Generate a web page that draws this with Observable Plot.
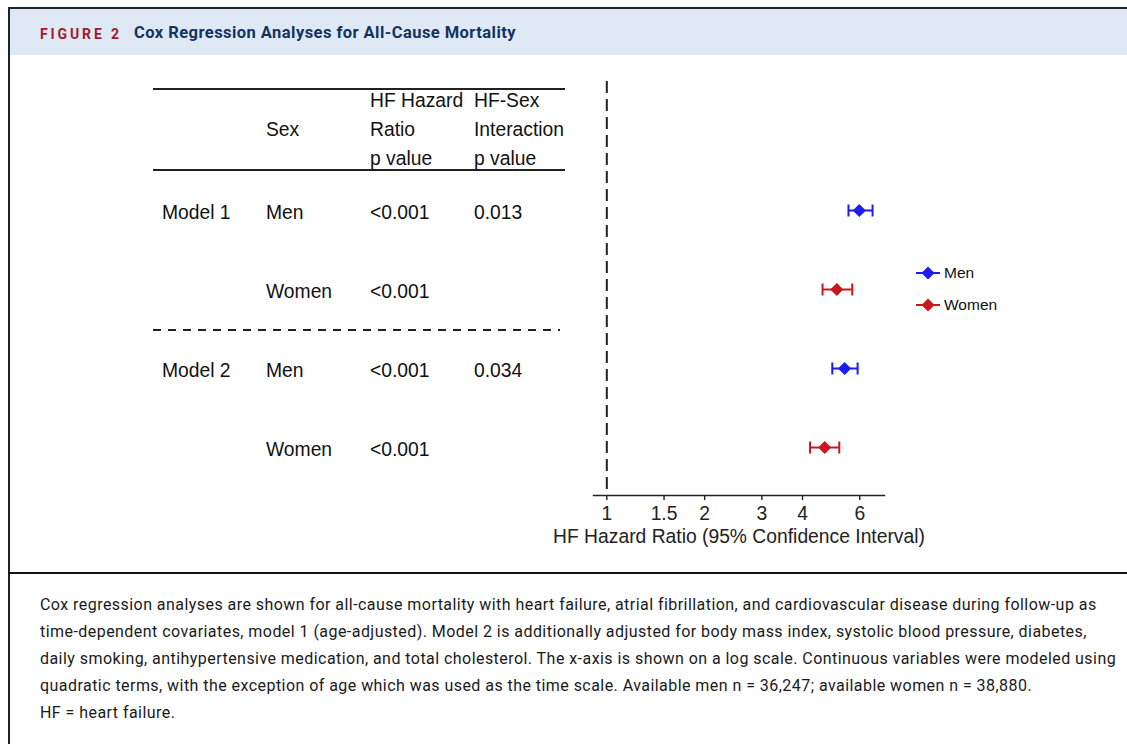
<!DOCTYPE html>
<html>
<head>
<meta charset="utf-8">
<script src="https://cdn.jsdelivr.net/npm/d3@7"></script>
<script src="https://cdn.jsdelivr.net/npm/@observablehq/plot@0.6"></script>
<style>
html, body { margin: 0; padding: 0; background: #fff; }
#page { position: relative; width: 1127px; height: 744px; overflow: hidden; font-family: "Liberation Sans", Arial, sans-serif; color: #111; }
.abs { position: absolute; white-space: nowrap; }
#frameTop { left: 8px; top: 7px; width: 1119px; height: 2px; background: #222; }
#frameLeft { left: 8px; top: 7px; width: 2px; height: 737px; background: #222; }
#band { left: 10px; top: 9px; width: 1117px; height: 46px; background: #dee9f5; }
#divider { left: 8px; top: 572px; width: 1119px; height: 2px; background: #111; }
#figLabel { left: 40px; top: 24px; font-family: Roboto, "Open Sans", sans-serif; font-weight: 700; font-size: 14px; line-height: 20px; color: #a3182f; }
#figTitle { left: 134px; top: 23px; font-family: Roboto, "Open Sans", sans-serif; font-weight: 700; font-size: 16.5px; line-height: 20px; color: #14325f; }
.rule { left: 153px; width: 412px; height: 2px; background: #222; }
#dashRule { left: 153px; top: 329px; width: 407px; height: 2px; background: repeating-linear-gradient(to right, #222 0 8px, transparent 8px 15px); }
.cell { font-size: 19.3px; line-height: 28px; color: #111; }
.hcell { font-size: 19.3px; line-height: 29px; color: #111; }
#plotWrap { left: 0; top: 60px; }
.leg { font-family: "Liberation Sans", Arial, sans-serif; font-size: 15.5px; color: #111; display: flex; align-items: center; }
.leg svg { margin-right: 3px; }
#caption { left: 40px; top: 591px; font-family: Roboto, "Open Sans", sans-serif; font-size: 16px; line-height: 27px; color: #1a1a1a; }
#caption div { white-space: nowrap; }
</style>
</head>
<body>
<div id="page">
  <div class="abs" id="band"></div>
  <div class="abs" id="frameTop"></div>
  <div class="abs" id="frameLeft"></div>
  <div class="abs" id="divider"></div>
  <div class="abs" id="figLabel"></div>
  <div class="abs" id="figTitle"></div>
  <div class="abs rule" style="top:88px"></div>
  <div class="abs rule" style="top:169px"></div>
  <div class="abs" id="dashRule"></div>
  <div class="abs" id="plotWrap"></div>
  <div class="abs" id="caption"></div>
</div>
<script>
// ---------- data ----------
const figureLabel = "FIGURE 2";
const figureTitle = "Cox Regression Analyses for All-Cause Mortality";

const rowKeys = ["Model 1 Men", "Model 1 Women", "Model 2 Men", "Model 2 Women"];
const models = ["Model 1", "", "Model 2", ""];
const sexes = ["Men", "Women", "Men", "Women"];
const hrPValues = ["<0.001", "<0.001", "<0.001", "<0.001"];
const interactionPValues = ["0.013", "", "0.034", ""];

const hazardRatio = [5.98, 5.10, 5.39, 4.68];
const ciLower = [5.54, 4.61, 4.94, 4.22];
const ciUpper = [6.57, 5.69, 5.91, 5.19];

const headerSex = ["", "Sex", ""];
const headerHR = ["HF Hazard", "Ratio", "p value"];
const headerInteraction = ["HF-Sex", "Interaction", "p value"];

const xTicks = [1, 1.5, 2, 3, 4, 6];
const xLabel = "HF Hazard Ratio (95% Confidence Interval)";
const legendLabels = ["Men", "Women"];
const seriesColors = ["#1c1cf2", "#c8181e"];

const captionLines = [
  "Cox regression analyses are shown for all-cause mortality with heart failure, atrial fibrillation, and cardiovascular disease during follow-up as",
  "time-dependent covariates, model 1 (age-adjusted). Model 2 is additionally adjusted for body mass index, systolic blood pressure, diabetes,",
  "daily smoking, antihypertensive medication, and total cholesterol. The x-axis is shown on a log scale. Continuous variables were modeled using",
  "quadratic terms, with the exception of age which was used as the time scale. Available men n = 36,247; available women n = 38,880.",
  "HF = heart failure."
];

// ---------- build ----------
const data = rowKeys.map((k, i) => ({row: k, sex: sexes[i], hr: hazardRatio[i], lo: ciLower[i], hi: ciUpper[i]}));
const page = document.getElementById("page");

function fitWidth(el, target) {
  const w = el.getBoundingClientRect().width;
  const n = el.textContent.length;
  el.style.letterSpacing = ((target - w) / n) + "px";
}

const figLabelEl = document.getElementById("figLabel");
figLabelEl.textContent = figureLabel;
fitWidth(figLabelEl, 82);
const figTitleEl = document.getElementById("figTitle");
figTitleEl.textContent = figureTitle;
fitWidth(figTitleEl, 382);

// vertical cap symbol for the error-bar ends
const capSymbol = {
  draw(context, size) {
    const h = Math.sqrt(size / Math.PI);
    context.moveTo(0, -h);
    context.lineTo(0, h);
  }
};

const plot = Plot.plot({
  width: 1127,
  height: 500,
  marginLeft: 593,
  marginRight: 243,
  marginTop: 21,
  marginBottom: 65,
  style: {fontFamily: "'Liberation Sans', Arial, sans-serif", fontSize: "19.3px", color: "#222", background: "transparent", overflow: "visible"},
  x: {type: "log", domain: [0.91, 7.15]},
  y: {type: "point", domain: rowKeys, padding: 0, insetTop: 128, insetBottom: 47, axis: null},
  color: {domain: legendLabels, range: seriesColors},
  marks: [
    Plot.ruleX([1], {stroke: "#222", strokeWidth: 2, strokeDasharray: "12,6"}),
    Plot.frame({anchor: "bottom", stroke: "#222", strokeWidth: 1.4}),
    Plot.axisX({
      ticks: xTicks, tickFormat: d => String(d), tickSize: 5, tickPadding: 6, fontSize: 19.3,
      stroke: "#222", strokeWidth: 1.4,
      label: xLabel, labelAnchor: "center", labelArrow: "none", labelOffset: 47
    }),
    Plot.ruleY(data, {y: "row", x1: "lo", x2: "hi", stroke: "sex", strokeWidth: 2}),
    Plot.dot(data, {x: "lo", y: "row", stroke: "sex", fill: "none", strokeWidth: 2, symbol: capSymbol, r: 6}),
    Plot.dot(data, {x: "hi", y: "row", stroke: "sex", fill: "none", strokeWidth: 2, symbol: capSymbol, r: 6}),
    Plot.dot(data, {x: "hr", y: "row", fill: "sex", symbol: "diamond2", r: 5.9})
  ]
});
document.getElementById("plotWrap").appendChild(plot);

// table rows, positioned by the plot's y scale
const yScale = plot.scale("y");
const colLeft = [162, 266, 370, 474];
const plotTop = 60;
rowKeys.forEach((k, i) => {
  const cy = plotTop + yScale.apply(k) + 3;
  [models[i], sexes[i], hrPValues[i], interactionPValues[i]].forEach((t, c) => {
    if (!t) return;
    const d = document.createElement("div");
    d.className = "abs cell";
    d.style.left = colLeft[c] + "px";
    d.style.top = (cy - 14) + "px";
    d.textContent = t;
    page.appendChild(d);
  });
});

// table header
[[headerSex, 1], [headerHR, 2], [headerInteraction, 3]].forEach(([lines, c]) => {
  lines.forEach((t, j) => {
    if (!t) return;
    const d = document.createElement("div");
    d.className = "abs hcell";
    d.style.left = colLeft[c] + "px";
    d.style.top = (86 + j * 29) + "px";
    d.textContent = t;
    page.appendChild(d);
  });
});

// legend
const legendTop = [273, 305];
legendLabels.forEach((lab, i) => {
  const d = document.createElement("div");
  d.className = "abs leg";
  d.style.left = "916px";
  d.style.top = (legendTop[i] - 8) + "px";
  d.style.height = "16px";
  const sym = d3.symbol(d3.symbolDiamond2, 108)();
  d.innerHTML = `<svg width="25" height="16" viewBox="0 0 25 16"><line x1="0" x2="24" y1="8" y2="8" stroke="${seriesColors[i]}" stroke-width="2"/><path transform="translate(12,8)" d="${sym}" fill="${seriesColors[i]}"/></svg><span>${lab}</span>`;
  page.appendChild(d);
});

// caption
const cap = document.getElementById("caption");
captionLines.forEach(t => {
  const d = document.createElement("div");
  d.textContent = t;
  cap.appendChild(d);
});
const first = cap.firstChild;
const span = document.createElement("span");
span.textContent = captionLines[0];
first.textContent = "";
first.appendChild(span);
const w0 = span.getBoundingClientRect().width;
const ls = (1056 - w0) / captionLines[0].length;
first.textContent = captionLines[0];
cap.style.letterSpacing = ls + "px";
</script>
</body>
</html>
